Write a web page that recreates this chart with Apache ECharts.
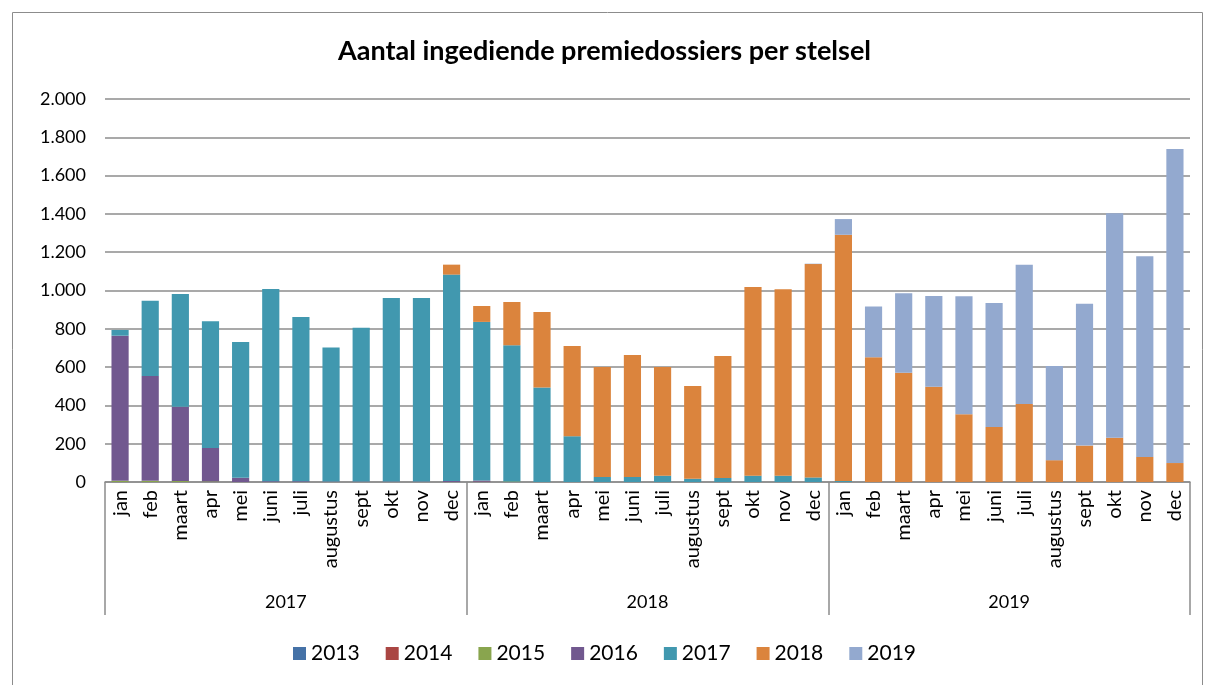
<!DOCTYPE html>
<html>
<head>
<meta charset="utf-8">
<script src="https://cdn.jsdelivr.net/npm/echarts@6/dist/echarts.min.js"></script>
<style>html,body{margin:0;padding:0;background:#fff}#c{width:1209px;height:685px}</style>
</head>
<body>
<div id="c"></div>
<script>
const months = ['jan','feb','maart','apr','mei','juni','juli','augustus','sept','okt','nov','dec'];
const years = ['2017','2018','2019'];
const categories = [].concat(months, months, months);
const seriesNames = ['2013','2014','2015','2016','2017','2018','2019'];

const s2013 = [0,0,0,0,0,0,0,0,0,0,0,0, 0,0,0,0,0,0,0,0,0,0,0,0, 0,0,0,0,0,0,0,0,0,0,0,0];
const s2014 = [0,0,0,0,0,0,0,0,0,0,0,0, 2,0,0,0,0,0,0,0,0,0,0,0, 0,0,0,0,0,0,0,0,0,0,0,0];
const s2015 = [6,6,5,3,0,0,0,0,0,0,0,0, 0,3,0,0,0,0,0,0,0,0,0,0, 0,0,0,0,0,0,0,0,0,0,0,0];
const s2016 = [758,547,388,175,22,4,4,2,2,2,2,5, 6,0,0,0,0,0,0,0,0,0,0,0, 0,0,0,0,0,0,0,0,0,0,0,0];
const s2017 = [30,394,589,661,709,1004,858,701,804,959,959,1078, 828,711,494,239,26,26,33,17,21,33,33,24, 5,0,0,0,0,0,0,0,0,0,0,0];
const s2018 = [0,0,0,0,0,0,0,0,0,0,0,52, 83,226,394,471,574,637,567,484,637,985,973,1114, 1286,651,571,497,354,287,407,114,190,231,131,99];
const s2019 = [0,0,0,0,0,0,0,0,0,0,0,0, 0,0,0,0,0,0,0,0,0,0,0,2, 82,265,414,474,616,648,728,492,741,1172,1048,1640];
const seriesData = [s2013,s2014,s2015,s2016,s2017,s2018,s2019];
const colors = ['#4572A7','#AA4643','#89A54E','#71588F','#4198AF','#DB843D','#93A9CF'];

const FONT = 'Lato, "Open Sans", sans-serif';
const chart = echarts.init(document.getElementById('c'));
chart.setOption({
  animation: false,
  color: colors,
  textStyle: {fontFamily: FONT, color: '#000'},
  title: {
    text: 'Aantal ingediende premiedossiers per stelsel',
    left: 'center', top: 33,
    textStyle: {fontFamily: FONT, fontSize: 27, fontWeight: 'bold', color: '#000'}
  },
  graphic: [{
    type: 'rect', left: 10, top: 10, shape: {width: 1190, height: 690},
    style: {fill: 'none', stroke: '#8c8c8c', lineWidth: 1}, silent: true
  }],
  legend: {
    data: seriesNames, bottom: 16, left: 'center',
    itemWidth: 13, itemHeight: 13, itemGap: 26, icon: 'rect',
    textStyle: {fontFamily: FONT, fontSize: 21, color: '#000'}
  },
  grid: {left: 105, right: 19, top: 99, bottom: 203},
  xAxis: [{
    type: 'category', data: categories, position: 'bottom',
    axisLine: {show: true, lineStyle: {color: '#8c8c8c', width: 1.5}},
    axisTick: {show: false},
    axisLabel: {interval: 0, rotate: 90, fontSize: 20, color: '#000', margin: 8, fontFamily: FONT}
  }, {
    type: 'category', data: years, position: 'bottom', offset: 0,
    axisLine: {show: false},
    axisTick: {show: true, length: 133, interval: 0, lineStyle: {color: '#8c8c8c', width: 1.5}},
    axisLabel: {fontSize: 18, color: '#000', margin: 111, fontFamily: FONT},
    splitLine: {show: false}
  }],
  yAxis: {
    type: 'value', min: 0, max: 2000, interval: 200,
    axisLine: {show: false}, axisTick: {show: false},
    axisLabel: {fontSize: 18, color: '#000', margin: 19, fontFamily: FONT,
      formatter: v => v >= 1000 ? Math.floor(v/1000) + '.' + String(v%1000).padStart(3,'0') : String(v)},
    splitLine: {lineStyle: {color: '#8c8c8c', width: 1.5}}
  },
  series: seriesNames.map((n, i) => ({
    name: n, type: 'bar', stack: 'total', xAxisIndex: 0,
    data: seriesData[i], barCategoryGap: '43%',
    itemStyle: {color: colors[i]}
  }))
});
</script>
</body>
</html>
